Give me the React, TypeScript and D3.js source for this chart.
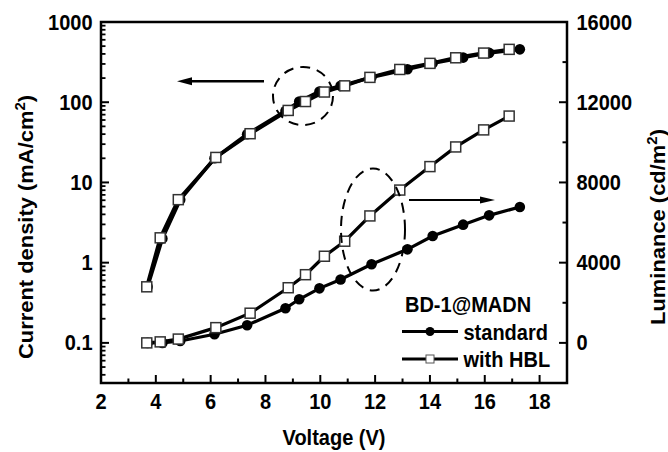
import React from "react";
import * as d3 from "d3";

const voltStd = [3.7, 4.24, 4.89, 6.14, 7.33, 8.73, 9.23, 9.97, 10.74, 11.87, 13.18, 14.1, 15.21, 16.16, 17.28];
const currentStd = [0.5, 2.0, 6.1, 20, 40, 78, 102, 136, 160, 205, 258, 305, 360, 412, 456];
const lumStd = [0, 0, 95, 430, 880, 1725, 2175, 2720, 3160, 3920, 4665, 5330, 5895, 6360, 6775];

const voltHbl = [3.67, 4.16, 4.82, 6.19, 7.44, 8.83, 9.46, 10.15, 10.89, 11.81, 12.9, 14.0, 14.94, 15.96, 16.89];
const currentHbl = [0.5, 2.04, 6.1, 20.5, 40.5, 79, 102, 134, 160, 204, 256, 305, 358, 410, 456];
const lumHbl = [0, 50, 190, 760, 1480, 2750, 3400, 4320, 5070, 6330, 7620, 8790, 9770, 10620, 11310];

const xTicks = [2, 4, 6, 8, 10, 12, 14, 16, 18];
const xMinor = [3, 5, 7, 9, 11, 13, 15, 17];
const yLeftTicks = [0.1, 1, 10, 100, 1000];
const yLeftLabels = ["0.1", "1", "10", "100", "1000"];
const yRightTicks = [0, 4000, 8000, 12000, 16000];
const yRightMinor = [2000, 6000, 10000, 14000];

const W = 668, H = 452;
const L = 101, R = 567, T = 22, B = 383;
const FONT = "'Liberation Sans', Arial, sans-serif";
const SY = 1.07;

function Txt({ x, y, anchor = "start", rot = 0, size = 20, children }: any) {
  return (
    <text
      transform={`translate(${x},${y}) scale(1,${SY}) rotate(${rot})`}
      textAnchor={anchor}
      fontFamily={FONT}
      fontWeight="bold"
      fontSize={size}
      fill="#000"
    >
      {children}
    </text>
  );
}

export default function App() {
  const x = d3.scaleLinear().domain([2, 19]).range([L, R]);
  const yL = d3.scaleLog().domain([Math.pow(10, -1.5), 1000]).range([B, T]);
  const yR = d3.scaleLinear().domain([-2000, 16000]).range([B, T]);

  const leftMinor: number[] = [];
  for (let e = -2; e <= 2; e++) {
    for (let m = 2; m <= 9; m++) {
      const v = m * Math.pow(10, e);
      if (v >= Math.pow(10, -1.5) && v < 1000) leftMinor.push(v);
    }
  }

  const lineJ = (vs: number[], js: number[]) =>
    d3.line<number>().x((_, i) => x(vs[i])).y((d) => yL(d))(js) as string;
  const lineLum = (vs: number[], ls: number[]) =>
    d3.line<number>().x((_, i) => x(vs[i])).y((d) => yR(d))(ls) as string;

  const sq = 10;

  const arrow = (x1: number, x2: number, y: number, sw: number, hl: number, hw: number) => {
    const dir = x2 > x1 ? 1 : -1;
    const base = x2 - dir * hl;
    return (
      <g>
        <line x1={x1} y1={y} x2={base} y2={y} stroke="#000" strokeWidth={sw} />
        <path d={`M${x2},${y} L${base},${y - hw} L${base},${y + hw} Z`} fill="#000" />
      </g>
    );
  };

  return (
    <svg width={W} height={H} style={{ position: "absolute", left: 0, top: 0 }}>
      <rect x={0} y={0} width={W} height={H} fill="#fff" />

      {/* ticks */}
      {xTicks.map((t) => (
        <line key={"xt" + t} x1={x(t)} x2={x(t)} y1={B} y2={B - 8} stroke="#000" strokeWidth={2} />
      ))}
      {xMinor.map((t) => (
        <line key={"xm" + t} x1={x(t)} x2={x(t)} y1={B} y2={B - 4.5} stroke="#000" strokeWidth={2} />
      ))}
      {yLeftTicks.map((t) => (
        <line key={"yl" + t} x1={L} x2={L + 8} y1={yL(t)} y2={yL(t)} stroke="#000" strokeWidth={2} />
      ))}
      {leftMinor.map((t) => (
        <line key={"ylm" + t} x1={L} x2={L + 4.5} y1={yL(t)} y2={yL(t)} stroke="#000" strokeWidth={1.8} />
      ))}
      {yRightTicks.map((t) => (
        <line key={"yr" + t} x1={R} x2={R - 8} y1={yR(t)} y2={yR(t)} stroke="#000" strokeWidth={2} />
      ))}
      {yRightMinor.map((t) => (
        <line key={"yrm" + t} x1={R} x2={R - 4.5} y1={yR(t)} y2={yR(t)} stroke="#000" strokeWidth={2} />
      ))}

      {/* frame */}
      <rect x={L} y={T} width={R - L} height={B - T} fill="none" stroke="#000" strokeWidth={2.5} />

      {/* tick labels */}
      {xTicks.map((t) => (
        <Txt key={"xl" + t} x={x(t)} y={408.5} anchor="middle">{t}</Txt>
      ))}
      {yLeftTicks.map((t, i) => (
        <Txt key={"yll" + t} x={92.5} y={yL(t) + 7.6} anchor="end">{yLeftLabels[i]}</Txt>
      ))}
      {yRightTicks.map((t) => (
        <Txt key={"yrl" + t} x={576.5} y={yR(t) + 7.6} anchor="start">{t}</Txt>
      ))}

      {/* axis titles */}
      <Txt x={334} y={445} anchor="middle" size={20}>Voltage (V)</Txt>
      <Txt x={33} y={227} anchor="middle" rot={-90} size={20.5}>
        Current density (mA/cm<tspan fontSize={14} dy={-8}>2</tspan><tspan dy={8}>)</tspan>
      </Txt>
      <Txt x={665} y={227} anchor="middle" rot={-90} size={20.5}>
        Luminance (cd/m<tspan fontSize={14} dy={-8}>2</tspan><tspan dy={8}>)</tspan>
      </Txt>

      {/* standard series */}
      <path d={lineJ(voltStd, currentStd)} fill="none" stroke="#000" strokeWidth={3.5} />
      <path d={lineLum(voltStd, lumStd)} fill="none" stroke="#000" strokeWidth={3.2} />
      {voltStd.map((v, i) => (
        <circle key={"cj" + i} cx={x(v)} cy={yL(currentStd[i])} r={5.3} fill="#000" />
      ))}
      {voltStd.map((v, i) => (
        <circle key={"cl" + i} cx={x(v)} cy={yR(lumStd[i])} r={5.3} fill="#000" />
      ))}

      {/* HBL series */}
      <path d={lineJ(voltHbl, currentHbl)} fill="none" stroke="#000" strokeWidth={3.5} />
      <path d={lineLum(voltHbl, lumHbl)} fill="none" stroke="#000" strokeWidth={3.2} />
      {voltHbl.map((v, i) => (
        <rect key={"sj" + i} x={x(v) - sq / 2} y={yL(currentHbl[i]) - sq / 2} width={sq} height={sq}
          fill="#fff" stroke="#333" strokeWidth={1.5} />
      ))}
      {voltHbl.map((v, i) => (
        <rect key={"sl" + i} x={x(v) - sq / 2} y={yR(lumHbl[i]) - sq / 2} width={sq} height={sq}
          fill="#fff" stroke="#333" strokeWidth={1.5} />
      ))}

      {/* annotations */}
      <ellipse cx={303} cy={96} rx={30} ry={29} fill="none" stroke="#000" strokeWidth={2} strokeDasharray="10,7" />
      <ellipse cx={373} cy={229.5} rx={32} ry={61} fill="none" stroke="#000" strokeWidth={2} strokeDasharray="10,7" />
      {arrow(264, 177, 81.3, 2.5, 15, 4)}
      {arrow(409, 495, 200, 2, 15, 3.5)}

      {/* legend */}
      <Txt x={405} y={311.5}>BD-1@MADN</Txt>
      <line x1={402} x2={458} y1={331.5} y2={331.5} stroke="#000" strokeWidth={3} />
      <circle cx={430} cy={331.5} r={4.5} fill="#000" />
      <Txt x={463.5} y={339.5}>standard</Txt>
      <line x1={402} x2={458} y1={359} y2={359} stroke="#000" strokeWidth={3} />
      <rect x={426} y={355} width={8} height={8} fill="#fff" stroke="#555" strokeWidth={1} />
      <Txt x={463.5} y={366.5}>with HBL</Txt>
    </svg>
  );
}
